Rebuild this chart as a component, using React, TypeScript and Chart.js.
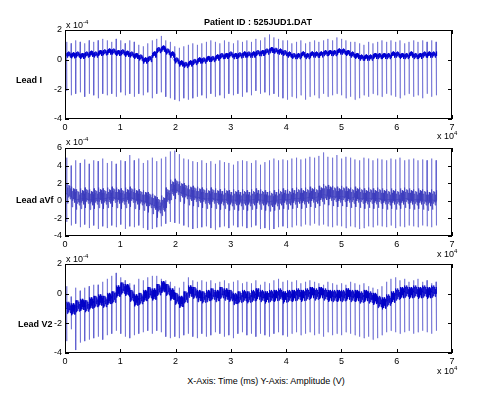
import React, { useEffect, useRef } from 'react';
import { Chart, registerables } from 'chart.js';

Chart.register(...registerables);

// ---- Data (amplitudes in units of 1e-4 V, time in ms) ----
const xTickValues = [0, 10000, 20000, 30000, 40000, 50000, 60000, 70000];
const recordEnd = 67250;

const beatTimes = [
  300, 1120, 1930, 2750, 3560, 4380, 5190, 6000, 6820, 7640,
  8450, 9260, 10080, 10890, 11710, 12520, 13340, 14150, 14960, 15780,
  16590, 17410, 18220, 19040, 19850, 20670, 21480, 22300, 23110, 23930,
  24740, 25560, 26370, 27190, 28000, 28820, 29630, 30450, 31260, 32080,
  32890, 33710, 34520, 35340, 36150, 36970, 37780, 38600, 39410, 40230,
  41040, 41860, 42670, 43490, 44300, 45120, 45930, 46750, 47560, 48380,
  49190, 50010, 50820, 51640, 52450, 53270, 54080, 54900, 55710, 56530,
  57340, 58160, 58970, 59790, 60600, 61420, 62230, 63050, 63860, 64680, 65490, 66310, 67120,
];

// Lead I
const leadIBase = [
  0.3, 0.25, 0.3, 0.2, 0.3, 0.35, 0.3, 0.4, 0.45, 0.5,
  0.5, 0.4, 0.45, 0.35, 0.3, 0.2, 0.1, -0.1, 0.0, 0.3,
  0.6, 0.7, 0.5, 0.3, -0.1, -0.3, -0.4, -0.3, -0.2, -0.1,
  -0.1, 0.0, 0.0, 0.1, 0.2, 0.2, 0.3, 0.2, 0.25, 0.3,
  0.3, 0.3, 0.4, 0.4, 0.5, 0.6, 0.55, 0.5, 0.4, 0.3,
  0.2, 0.2, 0.3, 0.2, 0.3, 0.3, 0.3, 0.4, 0.4, 0.4,
  0.5, 0.5, 0.4, 0.3, 0.2, 0.1, 0.1, 0.1, 0.2, 0.2,
  0.2, 0.2, 0.3, 0.3, 0.2, 0.2, 0.3, 0.2, 0.2, 0.3, 0.3, 0.3, 0.4,
];
const leadIR = [
  1.2, 1.1, 1.3, 1.2, 1.1, 1.3, 1.2, 1.3, 1.4, 1.3,
  1.2, 1.4, 1.3, 1.1, 1.3, 1.2, 1.0, 0.9, 1.1, 1.3,
  1.4, 1.6, 1.3, 1.2, 0.9, 0.8, 0.9, 1.0, 1.1, 1.0,
  1.1, 1.2, 1.3, 1.2, 1.1, 1.3, 1.2, 1.1, 1.3, 1.2,
  1.3, 1.2, 1.4, 1.3, 1.5, 1.7, 1.5, 1.4, 1.3, 1.3,
  1.1, 1.2, 1.3, 1.1, 1.2, 1.3, 1.2, 1.3, 1.4, 1.3,
  1.5, 1.4, 1.3, 1.2, 1.2, 1.1, 1.0, 1.2, 1.1, 1.2,
  1.3, 1.2, 1.3, 1.2, 1.3, 1.1, 1.2, 1.3, 1.2, 1.3, 1.2, 1.3, 1.2,
];
const leadIS = [
  -2.1, -2.4, -2.3, -2.2, -2.5, -2.3, -2.4, -2.6, -2.3, -2.4,
  -2.3, -2.5, -2.2, -2.4, -2.3, -2.5, -2.3, -2.4, -2.2, -2.6,
  -2.3, -2.2, -2.5, -2.6, -2.7, -2.8, -2.6, -2.7, -2.6, -2.5,
  -2.4, -2.6, -2.3, -2.5, -2.4, -2.6, -2.3, -2.4, -2.3, -2.5,
  -2.2, -2.4, -2.1, -2.3, -2.2, -2.4, -2.3, -2.5, -2.6, -2.7,
  -2.5, -2.6, -2.4, -2.7, -2.5, -2.4, -2.6, -2.3, -2.5, -2.4,
  -2.3, -2.4, -2.6, -2.5, -2.7, -2.6, -2.4, -2.5, -2.3, -2.4,
  -2.5, -2.3, -2.4, -2.5, -2.6, -2.4, -2.3, -2.5, -2.4, -2.6, -2.3, -2.5, -2.4,
];
// between-beat waveform of Lead I: [ms after R, offset from baseline]
const leadIWave = [
  [60, 0.15], [120, -0.15], [200, 0.2], [290, -0.05], [380, 0.25], [470, 0.0],
  [560, 0.2], [650, -0.15], [730, 0.1],
];

// Lead aVf
const leadAVFBase = [
  0.8, 0.4, 0.1, 0.2, 0.3, 0.1, 0.2, 0.3, 0.2, 0.3,
  0.4, 0.3, 0.2, 0.3, 0.4, 0.2, 0.1, 0.0, -0.2, -0.4,
  -0.8, -0.6, 0.3, 1.2, 1.3, 1.0, 0.8, 0.6, 0.5, 0.4,
  0.3, 0.2, 0.3, 0.2, 0.1, 0.2, 0.0, 0.1, 0.0, 0.1,
  0.0, 0.1, 0.2, 0.1, 0.0, -0.1, 0.0, 0.1, 0.2, 0.1,
  0.2, 0.3, 0.2, 0.3, 0.4, 0.3, 0.5, 0.7, 0.6, 0.5,
  0.4, 0.5, 0.4, 0.3, 0.4, 0.3, 0.2, 0.3, 0.2, 0.3,
  0.2, 0.1, 0.2, 0.1, 0.2, 0.3, 0.2, 0.1, 0.2, 0.1, 0.0, 0.1, 0.0,
];
const leadAVFR = [
  4.9, 4.0, 4.6, 4.3, 4.7, 4.2, 4.6, 4.5, 4.8, 4.3,
  4.5, 4.2, 4.6, 4.5, 5.2, 4.6, 4.8, 4.3, 4.6, 4.9,
  4.5, 4.8, 5.0, 5.6, 5.7, 5.3, 4.8, 4.7, 4.5, 4.4,
  4.6, 4.3, 4.5, 4.2, 4.6, 4.4, 4.3, 4.1, 4.5, 4.6,
  4.5, 4.3, 4.6, 4.1, 4.4, 4.6, 4.8, 4.6, 4.7, 4.6,
  4.8, 4.9, 4.7, 4.8, 5.0, 4.9, 5.1, 5.5, 5.0, 4.9,
  5.2, 4.8, 5.0, 4.9, 4.7, 4.6, 4.9, 4.8, 4.6, 4.8,
  4.7, 4.6, 4.8, 4.7, 4.9, 4.6, 4.7, 4.8, 4.6, 4.7, 4.6, 4.8, 4.6,
];
const leadAVFS = [
  -2.4, -2.8, -2.6, -3.0, -2.7, -3.1, -2.8, -3.2, -2.9, -3.1,
  -2.8, -3.0, -2.7, -3.2, -2.9, -3.0, -2.8, -3.1, -3.3, -3.2,
  -3.0, -2.9, -2.6, -2.4, -2.5, -2.6, -2.8, -3.0, -3.2, -3.1,
  -3.0, -2.9, -3.1, -3.3, -3.0, -2.9, -3.1, -2.8, -3.0, -2.9,
  -3.1, -3.0, -2.8, -3.2, -3.1, -3.3, -3.2, -3.0, -2.9, -3.1,
  -3.0, -2.8, -2.9, -2.7, -2.8, -2.6, -2.8, -2.7, -2.9, -3.0,
  -2.8, -2.9, -3.1, -2.9, -3.0, -3.2, -3.1, -2.9, -3.0, -2.8,
  -2.9, -3.0, -2.8, -3.1, -2.9, -3.0, -2.8, -2.9, -3.0, -2.8, -2.9, -3.0, -2.8,
];
const leadAVFWave = [
  [60, 1.2], [110, 0.1], [170, -1.1], [240, 0.7], [320, -0.4], [400, 1.0],
  [480, -0.2], [560, 0.9], [640, -0.6], [720, 0.6], [770, -0.3],
];

// Lead V2
const leadV2Base = [
  -1.0, -1.1, -0.9, -0.8, -0.9, -0.7, -0.6, -0.5, -0.6, -0.4,
  -0.3, 0.1, 0.3, 0.2, -0.2, -0.5, -0.4, -0.2, 0.0, -0.1,
  0.2, 0.4, 0.2, -0.1, -0.4, -0.6, -0.3, 0.1, 0.0, -0.2,
  -0.3, -0.2, -0.1, -0.2, 0.0, -0.1, -0.2, -0.4, -0.3, -0.2,
  -0.3, -0.2, -0.1, -0.2, -0.3, -0.2, -0.2, -0.1, -0.3, -0.2,
  -0.2, -0.1, -0.2, -0.1, 0.0, -0.1, 0.0, -0.1, -0.2, -0.2,
  -0.2, -0.2, -0.1, -0.2, -0.2, -0.3, -0.2, -0.3, -0.4, -0.6,
  -0.7, -0.5, -0.3, -0.1, 0.0, 0.1, 0.0, 0.1, 0.0, 0.1, 0.0, 0.1, 0.0,
];
const leadV2R = [
  0.5, -0.2, 0.4, 0.2, 0.4, 0.5, 0.6, 0.6, 0.8, 1.0,
  1.2, 1.4, 1.1, 0.9, 0.7, 0.6, 1.0, 0.9, 1.1, 1.2,
  1.2, 1.0, 0.9, 0.8, 0.5, 0.4, 0.8, 1.1, 0.9, 0.8,
  0.9, 0.8, 0.9, 0.7, 0.8, 0.9, 0.7, 0.8, 0.9, 0.7,
  0.8, 0.7, 0.9, 0.6, 0.8, 0.7, 0.9, 1.0, 0.8, 0.9,
  0.8, 0.9, 0.7, 0.8, 0.9, 0.8, 0.7, 0.6, 0.8, 0.7,
  0.6, 0.7, 0.6, 0.8, 0.7, 0.6, 0.7, 0.5, 0.4, 0.3,
  0.5, 0.8, 1.0, 1.1, 0.9, 1.0, 0.8, 0.9, 1.0, 0.8, 0.9, 0.7, 0.8,
];
const leadV2S = [
  -3.2, -2.4, -3.8, -3.3, -3.2, -3.1, -3.0, -2.9, -3.1, -2.8,
  -2.7, -2.5, -2.7, -2.9, -3.0, -2.8, -2.7, -2.6, -2.5, -2.7,
  -2.5, -2.6, -2.9, -3.0, -2.9, -3.0, -2.8, -2.7, -2.9, -3.0,
  -2.7, -2.9, -2.8, -2.6, -2.7, -2.9, -2.8, -3.0, -2.7, -2.6,
  -2.8, -2.7, -2.9, -2.7, -2.8, -2.9, -2.7, -2.6, -2.8, -2.9,
  -2.7, -2.6, -2.8, -2.7, -2.6, -2.8, -2.7, -2.9, -2.6, -2.8,
  -2.7, -2.8, -2.6, -2.7, -2.8, -2.9, -3.0, -2.9, -3.1, -3.0,
  -2.8, -2.6, -2.5, -2.6, -2.7, -2.6, -2.5, -2.7, -2.6, -2.5, -2.6, -2.7, -2.5,
];
const leadV2Wave = [
  [60, 0.45], [130, -0.35], [210, 0.35], [300, -0.25], [390, 0.45], [480, -0.1],
  [570, 0.35], [660, -0.3], [740, 0.2],
];

const FONT = "'Liberation Sans', Arial, sans-serif";

function spikePoints(base: number[], r: number[], s: number[]) {
  const pts: { x: number; y: number }[] = [{ x: 0, y: base[0] }];
  beatTimes.forEach((t, i) => {
    pts.push({ x: t - 40, y: base[i] });
    pts.push({ x: t - 10, y: r[i] });
    pts.push({ x: t + 20, y: s[i] });
    pts.push({ x: t + 60, y: base[i] });
  });
  pts.push({ x: recordEnd, y: base[base.length - 1] });
  return pts;
}

function wavePoints(base: number[], wave: number[][]) {
  const pts: { x: number; y: number }[] = [{ x: 0, y: base[0] }];
  beatTimes.forEach((t, i) => {
    pts.push({ x: t, y: base[i] });
    wave.forEach(([dt, dy]) => {
      const x = t + dt;
      if (x < recordEnd) pts.push({ x, y: base[i] + dy });
    });
  });
  return pts;
}

const boxPlugin = {
  id: 'matlabBox',
  afterDraw(chart: any) {
    const { ctx, chartArea: a, scales } = chart;
    ctx.save();
    ctx.strokeStyle = '#000';
    ctx.lineWidth = 1;
    ctx.strokeRect(Math.round(a.left) + 0.5, Math.round(a.top) + 0.5, Math.round(a.right - a.left) - 1, Math.round(a.bottom - a.top) - 1);
    ctx.beginPath();
    const xs = scales.x;
    const ys = scales.y;
    xs.ticks.forEach((t: any) => {
      const px = Math.round(xs.getPixelForValue(t.value)) + 0.5;
      ctx.moveTo(px, a.bottom);
      ctx.lineTo(px, a.bottom - 4);
      ctx.moveTo(px, a.top);
      ctx.lineTo(px, a.top + 4);
    });
    ys.ticks.forEach((t: any) => {
      const py = Math.round(ys.getPixelForValue(t.value)) + 0.5;
      ctx.moveTo(a.left, py);
      ctx.lineTo(a.left + 4, py);
      ctx.moveTo(a.right, py);
      ctx.lineTo(a.right - 4, py);
    });
    ctx.stroke();
    ctx.restore();
  },
};

type PanelProps = {
  base: number[];
  r: number[];
  s: number[];
  wave: number[][];
  yMin: number;
  yMax: number;
  top: number;
  height: number;
  padTop: number;
  waveColor: string;
};

function Panel({ base, r, s, wave, yMin, yMax, top, height, padTop, waveColor }: PanelProps) {
  const ref = useRef<HTMLCanvasElement>(null);
  useEffect(() => {
    if (!ref.current) return;
    const chart = new Chart(ref.current, {
      type: 'line',
      data: {
        datasets: [
          {
            data: wavePoints(base, wave),
            borderColor: waveColor,
            borderWidth: 1,
            pointRadius: 0,
            tension: 0,
            order: 0,
          },
          {
            data: spikePoints(base, r, s),
            borderColor: 'rgba(85,85,205,0.75)',
            borderWidth: 0.8,
            pointRadius: 0,
            tension: 0,
            order: 1,
          },
        ],
      },
      options: {
        responsive: false,
        animation: false,
        events: [],
        parsing: false as any,
        layout: { padding: { left: 45, right: 48, top: padTop, bottom: 0 } },
        plugins: { legend: { display: false }, tooltip: { enabled: false }, title: { display: false } },
        scales: {
          x: {
            type: 'linear',
            min: 0,
            max: 70000,
            afterBuildTicks: (scale: any) => {
              scale.ticks = xTickValues.map((v) => ({ value: v }));
            },
            afterFit: (scale: any) => {
              scale.height = 16;
            },
            grid: { display: false, drawTicks: false },
            border: { display: false },
            ticks: {
              padding: 3,
              color: '#000',
              font: { family: FONT, size: 9 },
              maxRotation: 0,
              autoSkip: false,
              callback: (v: any) => String(Number(v) / 10000),
            },
          },
          y: {
            type: 'linear',
            min: yMin,
            max: yMax,
            afterFit: (scale: any) => {
              scale.width = 20;
            },
            grid: { display: false, drawTicks: false },
            border: { display: false },
            ticks: {
              stepSize: 2,
              padding: 3,
              color: '#000',
              font: { family: FONT, size: 9 },
              callback: (v: any) => String(v),
            },
          },
        },
      },
      plugins: [boxPlugin],
    });
    return () => chart.destroy();
  }, []);
  return (
    <canvas
      ref={ref}
      width={500}
      height={height}
      style={{ position: 'absolute', left: 0, top, width: 500, height }}
    />
  );
}

const txt: React.CSSProperties = {
  position: 'absolute',
  fontFamily: FONT,
  fontSize: 9,
  lineHeight: '10px',
  whiteSpace: 'nowrap',
  color: '#000',
};

function Exp({ left, top, e }: { left: number; top: number; e: string }) {
  return (
    <div style={{ ...txt, left, top }}>
      x 10<sup style={{ fontSize: 6, verticalAlign: 'top', position: 'relative', top: -3 }}>{e}</sup>
    </div>
  );
}

export default function App() {
  return (
    <div style={{ position: 'fixed', left: 0, top: 0, width: 500, height: 397, background: '#fff', overflow: 'hidden' }}>
      <Panel base={leadIBase} r={leadIR} s={leadIS} wave={leadIWave} yMin={-4} yMax={2} top={0} height={135} padTop={30} waveColor="rgba(0,0,210,0.95)" />
      <Panel base={leadAVFBase} r={leadAVFR} s={leadAVFS} wave={leadAVFWave} yMin={-4} yMax={6} top={135} height={117} padTop={13} waveColor="rgba(60,60,190,0.7)" />
      <Panel base={leadV2Base} r={leadV2R} s={leadV2S} wave={leadV2Wave} yMin={-4} yMax={2} top={252} height={117} padTop={12} waveColor="rgba(0,0,200,0.85)" />

      <div style={{ ...txt, left: 258, top: 17, transform: 'translateX(-50%)', fontWeight: 'bold' }}>Patient ID : 525JUD1.DAT</div>

      <Exp left={66} top={20} e="-4" />
      <Exp left={66} top={137} e="-4" />
      <Exp left={66} top={254} e="-4" />

      <Exp left={437} top={131} e="4" />
      <Exp left={437} top={249} e="4" />
      <Exp left={437} top={366} e="4" />

      <div style={{ ...txt, left: 16, top: 75, fontWeight: 'bold' }}>Lead I</div>
      <div style={{ ...txt, left: 16, top: 195, fontWeight: 'bold' }}>Lead aVf</div>
      <div style={{ ...txt, left: 18, top: 319, fontWeight: 'bold' }}>Lead V2</div>

      <div style={{ ...txt, left: 266, top: 376, transform: 'translateX(-50%)' }}>X-Axis: Time (ms) Y-Axis: Amplitude (V)</div>
    </div>
  );
}
